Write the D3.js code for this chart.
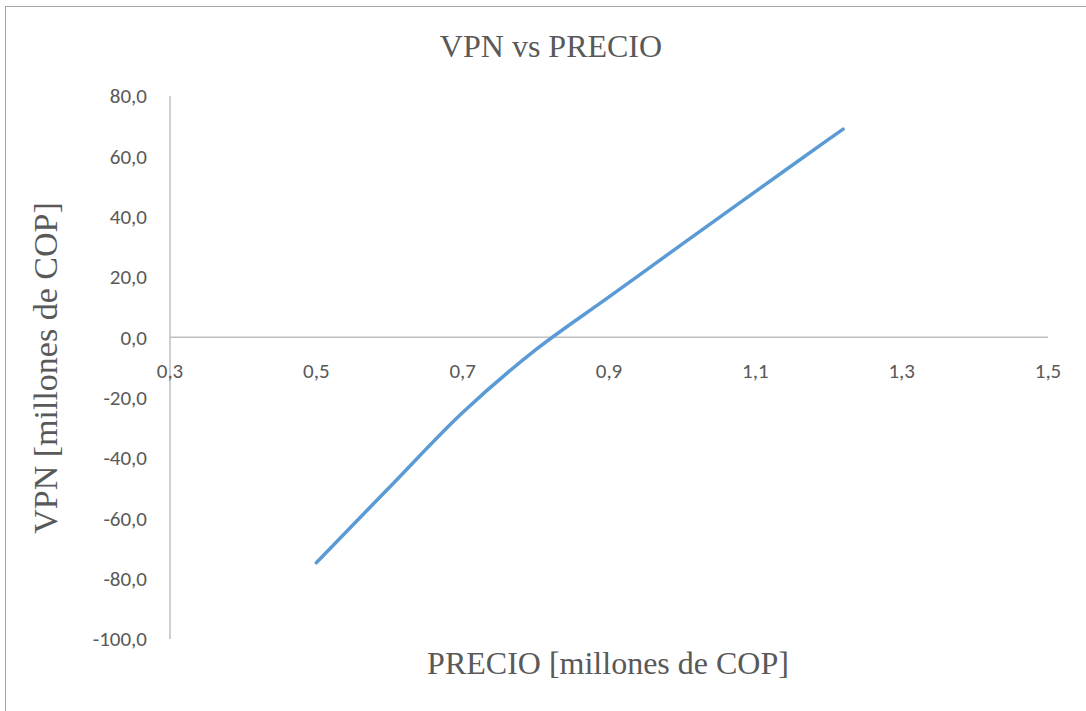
<!DOCTYPE html>
<html><head><meta charset="utf-8">
<script src="https://cdn.jsdelivr.net/npm/d3@7"></script>
<style>html,body{margin:0;padding:0;background:#fff;overflow:hidden}</style>
</head><body>
<svg id="c" width="1086" height="711"></svg>
<script>
const precio = [0.5, 0.6, 0.7, 0.8, 0.9, 1.0, 1.1, 1.2, 1.22];
const vpn = [-74.7, -49.7, -24.9, -4.1, 13.4, 30.9, 48.3, 65.6, 69.0];
const xTicks = [0.3, 0.5, 0.7, 0.9, 1.1, 1.3, 1.5];
const yTicks = [80, 60, 40, 20, 0, -20, -40, -60, -80, -100];
const title = "VPN vs PRECIO";
const xTitle = "PRECIO [millones de COP]";
const yTitle = "VPN [millones de COP]";

const svg = d3.select("#c");
const fmt = d => d3.format(".1f")(d).replace(".", ",").replace("−", "-");

// frame
svg.append("rect").attr("x", 5.5).attr("y", 6.5).attr("width", 1200).attr("height", 800)
  .attr("fill", "#fff").attr("stroke", "#a6a6a6").attr("stroke-width", 1);

const x = d3.scaleLinear().domain([0.3, 1.5]).range([170, 1048]);
const y = d3.scaleLinear().domain([-100, 80]).range([639, 96]);

// axes lines
svg.append("line").attr("x1", x(0.3)).attr("x2", x(0.3)).attr("y1", y(80)).attr("y2", y(-100))
  .attr("stroke", "#bfbfbf").attr("stroke-width", 1.5);
svg.append("line").attr("x1", x(0.3)).attr("x2", x(1.5)).attr("y1", y(0)).attr("y2", y(0))
  .attr("stroke", "#bfbfbf").attr("stroke-width", 1.5);

const labelFont = "Carlito, 'Open Sans', 'Liberation Sans', sans-serif";
svg.append("g").selectAll("text").data(yTicks).join("text")
  .attr("x", 147).attr("y", d => y(d)).attr("dy", "0.35em")
  .attr("text-anchor", "end").attr("font-family", labelFont).attr("font-size", 21)
  .attr("fill", "#595959").text(fmt);
svg.append("g").selectAll("text").data(xTicks).join("text")
  .attr("x", d => x(d)).attr("y", y(0) + 33).attr("dy", "0.35em")
  .attr("text-anchor", "middle").attr("font-family", labelFont).attr("font-size", 21)
  .attr("fill", "#595959").text(fmt);

// line
const line = d3.line().x((d, i) => x(precio[i])).y(d => y(d)).curve(d3.curveCatmullRom.alpha(0.5));
svg.append("path").attr("d", line(vpn)).attr("fill", "none").attr("stroke", "#5b9bd5")
  .attr("stroke-width", 3.5).attr("stroke-linecap", "round").attr("stroke-linejoin", "round");

const serif = "'Liberation Serif', 'Times New Roman', serif";
svg.append("text").attr("x", 551).attr("y", 57).attr("text-anchor", "middle")
  .attr("font-family", serif).attr("font-size", 32).attr("fill", "#595959").text(title);
svg.append("text").attr("x", 608).attr("y", 674).attr("text-anchor", "middle")
  .attr("font-family", serif).attr("font-size", 32).attr("fill", "#595959").text(xTitle);
svg.append("text").attr("transform", "translate(57,368) rotate(-90)").attr("text-anchor", "middle")
  .attr("font-family", serif).attr("font-size", 34).attr("fill", "#595959").text(yTitle);
</script>
</body></html>
